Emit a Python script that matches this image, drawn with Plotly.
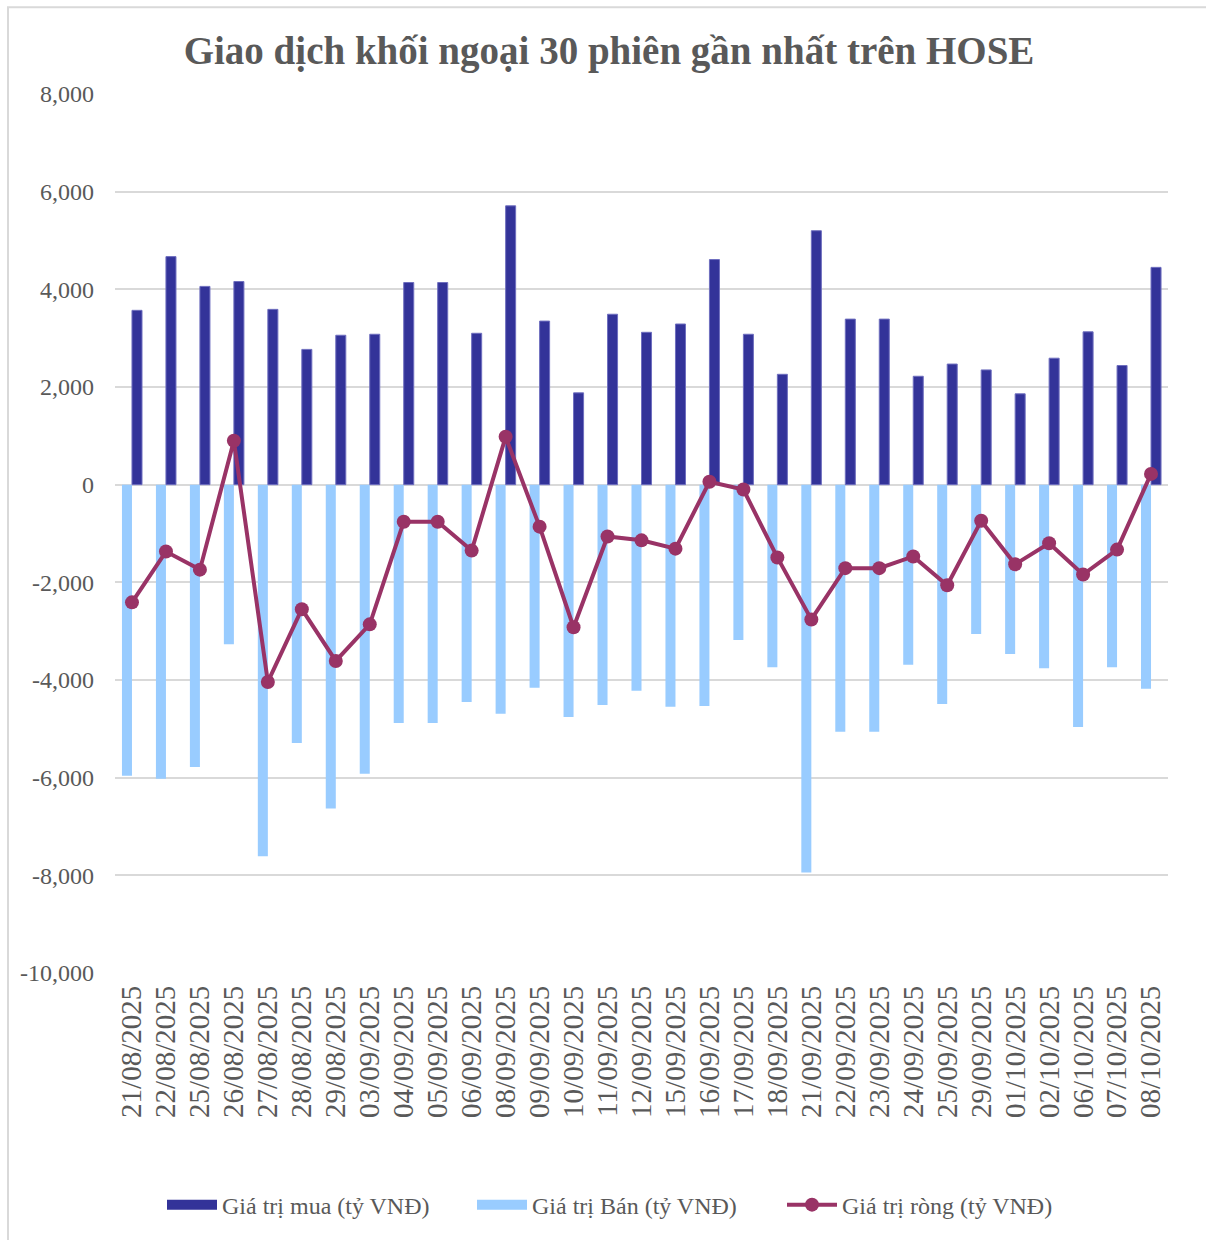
import plotly.graph_objects as go

dates = ["21/08/2025","22/08/2025","25/08/2025","26/08/2025","27/08/2025","28/08/2025","29/08/2025",
         "03/09/2025","04/09/2025","05/09/2025","06/09/2025","08/09/2025","09/09/2025","10/09/2025",
         "11/09/2025","12/09/2025","15/09/2025","16/09/2025","17/09/2025","18/09/2025","21/09/2025",
         "22/09/2025","23/09/2025","24/09/2025","25/09/2025","29/09/2025","01/10/2025","02/10/2025",
         "06/10/2025","07/10/2025","08/10/2025"]

buy = [3570, 4670, 4060, 4160, 3590, 2770, 3060, 3080, 4140, 4140, 3100, 5710, 3350, 1880,
       3490, 3120, 3290, 4610, 3080, 2260, 5200, 3390, 3390, 2220, 2470, 2350, 1860, 2590,
       3130, 2440, 4450]

sell = [-5960, -6020, -5780, -3270, -7610, -5290, -6630, -5920, -4880, -4880, -4450, -4690,
        -4160, -4760, -4510, -4220, -4550, -4530, -3180, -3740, -7940, -5060, -5060, -3690,
        -4490, -3060, -3470, -3760, -4960, -3740, -4180]

net = [-2410, -1370, -1740, 900, -4040, -2550, -3610, -2860, -760, -760, -1350, 980, -860,
       -2920, -1060, -1140, -1310, 60, -100, -1490, -2760, -1710, -1710, -1470, -2060, -740,
       -1630, -1200, -1840, -1330, 220]

y_ticks = [8000, 6000, 4000, 2000, 0, -2000, -4000, -6000, -8000, -10000]
y_ticktext = ["8,000", "6,000", "4,000", "2,000", "0", "-2,000", "-4,000", "-6,000", "-8,000", "-10,000"]

names = ["Giá trị mua (tỷ VNĐ)", "Giá trị Bán (tỷ VNĐ)", "Giá trị ròng (tỷ VNĐ)"]
BUY_C, SELL_C, NET_C = "#333399", "#99CCFF", "#993366"

FONT = "Liberation Serif"
GRAY = "#595959"

fig = go.Figure()
fig.add_trace(go.Bar(x=dates, y=sell, name=names[1], marker_color=SELL_C,
                     marker_line_width=0, showlegend=False, legendgroup="sell"))
fig.add_trace(go.Bar(x=dates, y=buy, name=names[0], marker_color=BUY_C,
                     marker_line=dict(color="#6f6fbf", width=1), showlegend=False, legendgroup="buy"))
fig.add_trace(go.Scatter(x=dates, y=net, name=names[2], mode="lines+markers",
                         line=dict(color=NET_C, width=4),
                         marker=dict(color=NET_C, size=14), legendrank=3))
# legend-only entries drawn as wide rectangles like the original
fig.add_trace(go.Scatter(x=[None], y=[None], name=names[0], mode="lines",
                         line=dict(color=BUY_C, width=13), legendgroup="buy", legendrank=1))
fig.add_trace(go.Scatter(x=[None], y=[None], name=names[1], mode="lines",
                         line=dict(color=SELL_C, width=13), legendgroup="sell", legendrank=2))

fig.update_layout(
    width=1206, height=1240,
    paper_bgcolor="white", plot_bgcolor="white",
    margin=dict(l=115, r=38, t=94, b=265),
    barmode="group", bargap=0.41, bargroupgap=0,
    title=dict(text="<b>Giao dịch khối ngoại 30 phiên gần nhất trên HOSE</b>",
               x=0.505, xanchor="center", y=1 - 50/1240, yanchor="middle",
               font=dict(family=FONT, size=39, color=GRAY)),
    font=dict(family=FONT, color=GRAY),
    showlegend=True,
    legend=dict(orientation="h", x=(162-115)/1053, xanchor="left", y=-0.264, yanchor="middle",
                font=dict(family=FONT, size=24, color=GRAY), itemwidth=50,
                entrywidth=245, entrywidthmode="pixels",
                traceorder="normal"),
    shapes=[dict(type="rect", xref="paper", yref="paper",
                 x0=(8-115)/1053, x1=(1230-115)/1053, y0=(975-1260)/881, y1=(975-7)/881,
                 line=dict(color="#d9d9d9", width=2), fillcolor="rgba(0,0,0,0)", layer="below")],
)
fig.update_xaxes(range=[-0.5, 30.5], tickmode="array", tickvals=dates, ticktext=dates,
                 tickangle=-90, tickfont=dict(family=FONT, size=29, color=GRAY),
                 showgrid=False, showline=False, ticks="", ticklabelstandoff=6, automargin=False)
fig.update_yaxes(range=[-10000, 8000], tickvals=y_ticks, ticktext=y_ticktext,
                 tickfont=dict(family=FONT, size=24, color=GRAY),
                 showgrid=True, gridcolor="#d9d9d9", gridwidth=1.5,
                 zeroline=True, zerolinecolor="#d9d9d9", zerolinewidth=1.5,
                 ticks="", ticklabelstandoff=20, automargin=False)

fig.write_html("out.html", config={"displayModeBar": False},
               post_script="document.body.style.margin='0';")
